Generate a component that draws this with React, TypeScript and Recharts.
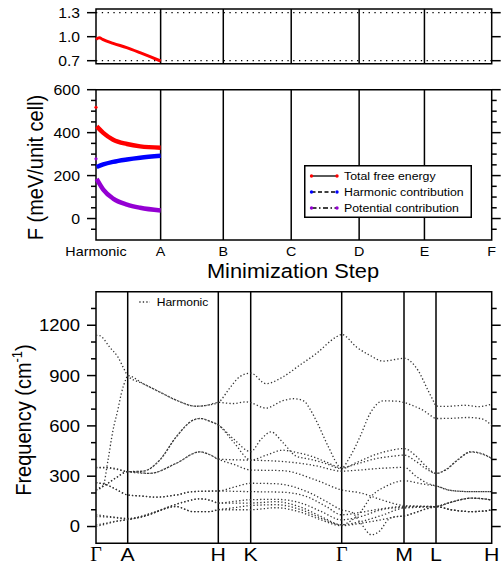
import React from "react";
import {
  LineChart,
  Line,
  XAxis,
  YAxis,
  ReferenceLine,
  ReferenceArea,
  Legend,
} from "recharts";

const FONT = "'Liberation Sans', Arial, Helvetica, sans-serif";
const SERIF = "'Liberation Serif', 'Times New Roman', serif";
const SX = 1.12; // text in the original is a little wide
const PLOT_W = 395.7;

// minimization steps (two upper panels)
const stepLabels = ["Harmonic", "A", "B", "C", "D", "E", "F"];
const stepPos = [0, 0.98, 1.93, 2.96, 3.99, 4.98, 6];

// upper panel
const ratioX = [0, 0.05, 0.1, 0.26, 0.465, 0.667, 0.82, 0.98];
const ratioY = [0.967, 0.988, 0.967, 0.917, 0.863, 0.8, 0.75, 0.696];
const ratioTicks = [0.7, 1.0, 1.3];

// free energy panel, meV / unit cell
const fX = [0.01, 0.11, 0.26, 0.47, 0.67, 0.98];
const totalF = [429, 399, 367, 347, 336, 330];
const harmonicF = [240, 252, 264, 275, 283, 292];
const potentialF = [185, 135, 93, 65, 50, 37];
const startTotal = 518;
const startPotential = 278;
const fTicks = [-50, 0, 50, 100, 150, 200, 250, 300, 350, 400, 450, 500, 550, 600];
const fMajor = [0, 200, 400, 600];

const RED = "#ff0000";
const BLUE = "#0000ff";
const PURPLE = "#9400d3";

const legendRows = [
  { label: "Total free energy", color: RED, dash: undefined },
  { label: "Harmonic contribution", color: BLUE, dash: "4 2.5" },
  { label: "Potential contribution", color: PURPLE, dash: "5 2.5 1.5 2.5" },
];

// phonon dispersion, cm-1
const kLabels = ["Γ", "A", "H", "K", "Γ", "M", "L", "H"];
const kPos = [0, 31.7, 122.3, 154.7, 245.7, 308, 340, 395.7];
const wTicks = [0, 100, 200, 300, 400, 500, 600, 700, 800, 900, 1000, 1100, 1200, 1300];
const wMajor = [0, 300, 600, 900, 1200];

type Pt = [number, number];

const band1: Pt[] = [[0, 1140], [3.7, 1138], [13.7, 1069], [22, 1010], [28.7, 931], [31.7, 898], [47, 852], [63.7, 802], [80.3, 753], [100.3, 717], [112, 724], [122.3, 740], [133.3, 822], [143.3, 891], [154.7, 915], [170, 852], [186.7, 891], [203.3, 960], [220, 1030], [240, 1129], [245.7, 1145], [260.7, 1069], [274, 1020], [287.3, 986], [297.3, 994], [308, 1003], [322, 931], [332, 812], [338.7, 733], [340, 718], [350, 716], [368.7, 723], [382, 715], [395.7, 730]];
const band2: Pt[] = [[0, 218], [7, 240], [12, 396], [17, 574], [22, 700], [25.3, 792], [30, 880], [31.7, 900], [47, 852], [63.7, 802], [80.3, 753], [100.3, 717], [112, 724], [122.3, 740], [136.7, 733], [150, 743], [154.7, 738], [170, 706], [186.7, 750], [198, 762], [208, 748], [214, 700], [222, 610], [232, 480], [245.7, 350], [254, 416], [264, 535], [274, 673], [287.3, 749], [298, 748], [308, 740], [318, 718], [328, 690], [335, 660], [340, 644], [355, 645], [372, 650], [385, 643], [395.7, 604]];
const band3: Pt[] = [[0, 353], [10, 352], [20, 345], [31.7, 327], [47, 330], [63.7, 396], [80.3, 535], [97, 634], [103.7, 644], [115, 625], [122.3, 605], [138, 520], [154.7, 446], [165, 520], [175, 564], [187, 500], [200, 420], [215, 400], [230, 375], [245.7, 345], [260, 380], [280, 430], [298, 458], [308, 465], [320, 420], [330, 360], [340, 317], [350, 340], [362, 400], [375, 446], [388, 430], [395.7, 406]];
const band4: Pt[] = [[0, 350], [10, 350], [20, 341], [31.7, 327], [53.7, 317], [80.3, 377], [103.7, 445], [115, 425], [122.3, 402], [138, 398], [154.7, 396], [170, 425], [186.7, 455], [200, 442], [215, 420], [230, 385], [245.7, 350], [260, 372], [280, 405], [298, 420], [308, 426], [320, 388], [330, 345], [340, 317], [350, 338], [362, 398], [375, 444], [388, 428], [395.7, 406]];
const band5: Pt[] = [[0, 262], [10, 250], [20, 222], [31.7, 188], [45, 182], [60, 175], [80, 188], [97, 208], [122.3, 212], [138, 235], [154.7, 258], [180, 255], [213, 203], [230, 150], [245.7, 99], [255.7, 85], [265.3, 15], [275.3, -49], [284, -25], [292, 40], [300, 60], [308, 63], [320, 85], [330, 105], [340, 119], [355, 145], [375, 169], [388, 165], [395.7, 158]];
const band6: Pt[] = [[0, 218], [10, 250], [20, 290], [31.7, 327], [47, 330], [63.7, 396], [80.3, 535], [97, 634], [103.7, 644], [115, 625], [122.3, 605], [138, 500], [154.7, 396], [175, 392], [200, 380], [220, 362], [245.7, 330], [260, 335], [280, 345], [298, 351], [308, 353], [320, 300], [330, 262], [340, 242], [355, 215], [375, 208], [395.7, 208]];
const band7: Pt[] = [[0, 262], [10, 250], [20, 222], [31.7, 188], [45, 182], [60, 175], [80, 188], [97, 208], [122.3, 212], [138, 210], [154.7, 208], [185, 205], [210, 180], [230, 120], [245.7, 70], [265, 85], [285, 105], [308, 120], [320, 120], [340, 119], [355, 100], [375, 89], [388, 92], [395.7, 99]];
const band8: Pt[] = [[0, 218], [10, 252], [20, 291], [31.7, 327], [53.7, 317], [80.3, 377], [103.7, 445], [115, 425], [122.3, 402], [138, 370], [154.7, 337], [186.7, 333], [220, 277], [245.7, 218], [265, 200], [285, 160], [308, 125], [320, 122], [340, 119], [355, 145], [375, 169], [388, 165], [395.7, 158]];
const band9: Pt[] = [[0, 70], [10, 62], [20, 55], [31.7, 48], [55.3, 79], [73.7, 119], [90, 150], [103.7, 165], [115, 155], [122.3, 140], [138, 150], [154.7, 160], [180, 162], [205, 140], [225, 90], [245.7, 40], [265, 60], [285, 100], [308, 115], [325, 118], [340, 119], [355, 100], [375, 89], [388, 92], [395.7, 99]];
const band10: Pt[] = [[0, 60], [15, 55], [31.7, 45], [55.3, 79], [73.7, 119], [90, 150], [103.7, 165], [115, 155], [122.3, 140], [138, 140], [154.7, 140], [180, 148], [205, 115], [225, 60], [245.7, 10], [255, 35], [265, 90], [275, 178], [290, 240], [308, 273], [320, 262], [330, 250], [340, 242], [355, 215], [375, 208], [395.7, 208]];
const band11: Pt[] = [[0, 10], [10, 20], [20, 32], [31.7, 42], [47, 59], [80, 119], [97, 89], [113.7, 89], [122.3, 100], [138, 112], [154.7, 125], [180, 130], [205, 100], [225, 50], [245.7, 10], [265, 30], [285, 65], [308, 110], [325, 115], [340, 119], [355, 145], [375, 169], [388, 165], [395.7, 158]];
const band12: Pt[] = [[0, 0], [10, 15], [20, 30], [31.7, 40], [47, 59], [80, 119], [97, 89], [113.7, 89], [122.3, 100], [138, 100], [154.7, 100], [180, 112], [205, 85], [225, 40], [245.7, 5], [265, 20], [285, 40], [300, 58], [308, 63], [320, 85], [330, 105], [340, 119], [355, 100], [375, 89], [388, 92], [395.7, 99]];

const bands = [band1, band2, band3, band4, band5, band6, band7, band8, band9, band10, band11, band12];

const pts = (xs: number[], ys: number[]) => xs.map((x, i) => ({ x, y: ys[i] }));
const kpts = (b: Pt[]) => b.map(([k, w]) => ({ x: k, y: w }));

// label-only y tick; marks are drawn as short reference segments on both frame edges
function valueTick(majors: number[], size: number, fmt: (v: number) => string) {
  return (props: any) => {
    const { x, y, payload } = props;
    if (!majors.includes(payload.value)) return <g />;
    return (
      <text
        transform={`translate(${x - 16} ${y}) scale(${SX} 1)`}
        textAnchor="end"
        dy="0.36em"
        fontSize={size}
        fill="#000"
        fontFamily={FONT}
      >
        {fmt(payload.value)}
      </text>
    );
  };
}

function tickMarks(ticks: number[], majors: number[], xMax: number) {
  const perPx = xMax / PLOT_W;
  return ticks.flatMap((v) => {
    const len = (majors.includes(v) ? 9 : 5) * perPx;
    return [
      <ReferenceLine
        key={`tl${v}`}
        segment={[{ x: -len, y: v }, { x: 0, y: v }]}
        stroke="#000"
        strokeWidth={1.5}
        ifOverflow="visible"
      />,
      <ReferenceLine
        key={`tr${v}`}
        segment={[{ x: xMax, y: v }, { x: xMax + len, y: v }]}
        stroke="#000"
        strokeWidth={1.5}
        ifOverflow="visible"
      />,
    ];
  });
}

const StepTick = (props: any) => {
  const { x, y, payload } = props;
  const i = stepPos.indexOf(payload.value);
  return (
    <text
      transform={`translate(${x} ${y + 15.7}) scale(${SX} 1)`}
      textAnchor="middle"
      fontSize={12.8}
      fill="#000"
      fontFamily={FONT}
    >
      {stepLabels[i]}
    </text>
  );
};

const KTick = (props: any) => {
  const { x, y, payload } = props;
  const lab = kLabels[kPos.indexOf(payload.value)];
  const serif = lab === "Γ";
  return (
    <text
      transform={`translate(${x} ${y + 17.7}) scale(${serif ? 1 : SX} 1)`}
      textAnchor="middle"
      fontSize={serif ? 20 : 19}
      fill="#000"
      fontFamily={serif ? SERIF : FONT}
    >
      {lab}
    </text>
  );
};

const FreeLegend = () => (
  <svg width={168} height={53} style={{ display: "block" }}>
    <rect x={0.75} y={0.75} width={166.5} height={51.5} fill="#fff" stroke="#000" strokeWidth={1.5} />
    {legendRows.map((r, i) => {
      const y = 11 + i * 16;
      return (
        <g key={r.label}>
          <line x1={7.5} x2={33} y1={y} y2={y} stroke="#000" strokeWidth={1.3} strokeDasharray={r.dash} />
          <circle cx={7.5} cy={y} r={1.7} fill={r.color} />
          <circle cx={33} cy={y} r={1.7} fill={r.color} />
          <text
            transform={`translate(40 ${y}) scale(${SX} 1)`}
            dy="0.36em"
            fontSize={11}
            fill="#000"
            fontFamily={FONT}
          >
            {r.label}
          </text>
        </g>
      );
    })}
  </svg>
);

const HarmonicLegend = () => (
  <svg width={80} height={14} style={{ display: "block" }}>
    <line x1={3.3} x2={14} y1={7} y2={7} stroke="#333" strokeWidth={1.3} strokeDasharray="1.3 2.2" />
    <text transform={`translate(20.7 7) scale(1.05 1)`} dy="0.36em" fontSize={11.5} fill="#000" fontFamily={FONT}>
      Harmonic
    </text>
  </svg>
);

const frame = { fill: "none", stroke: "#000", strokeWidth: 1.5 };
const margins = (top: number, bottom: number) => ({ top, right: 9.3, bottom, left: 36 });

function leftAxis(domain: number[], ticks: number[], majors: number[], size: number, fmt: (v: number) => string) {
  return (
    <YAxis
      type="number"
      domain={domain}
      ticks={ticks}
      interval={0}
      width={60}
      axisLine={false}
      tickLine={false}
      tickSize={0}
      tickMargin={0}
      tick={valueTick(majors, size, fmt)}
    />
  );
}

export default function App() {
  return (
    <div
      style={{
        position: "absolute",
        left: 0,
        top: 0,
        width: 501,
        height: 564,
        background: "#fff",
        fontFamily: FONT,
      }}
    >
      {/* upper panel */}
      <div style={{ position: "absolute", left: 0, top: 0 }}>
        <LineChart width={501} height={70} margin={margins(9, 6.3)}>
          <XAxis type="number" dataKey="x" domain={[0, 6]} hide />
          {leftAxis([0.6625, 1.346], ratioTicks, ratioTicks, 14, (v) => v.toFixed(1))}
          {stepPos.slice(1, -1).map((p) => (
            <ReferenceLine key={p} x={p} stroke="#000" strokeWidth={1.5} />
          ))}
          <ReferenceLine y={1.3} stroke="#000" strokeWidth={1.3} strokeDasharray="1.3 4.5" />
          <ReferenceLine y={0.7} stroke="#000" strokeWidth={1.3} strokeDasharray="1.3 4.5" />
          {tickMarks(ratioTicks, ratioTicks, 6)}
          <Line
            data={pts(ratioX, ratioY)}
            dataKey="y"
            type="monotone"
            stroke={RED}
            strokeWidth={3}
            dot={false}
            isAnimationActive={false}
          />
          <ReferenceArea x1={0} x2={6} y1={0.6625} y2={1.346} ifOverflow="visible" {...frame} />
        </LineChart>
      </div>

      {/* free energy panel */}
      <div style={{ position: "absolute", left: 0, top: 70 }}>
        <LineChart width={501} height={215} margin={margins(19.7, 25)}>
          <XAxis
            type="number"
            dataKey="x"
            domain={[0, 6]}
            ticks={stepPos}
            interval={0}
            height={20}
            axisLine={false}
            tickLine={false}
            tickSize={0}
            tickMargin={0}
            tick={StepTick}
          />
          {leftAxis([-100, 600], fTicks, fMajor, 14.2, String)}
          {stepPos.slice(1, -1).map((p) => (
            <ReferenceLine key={p} x={p} stroke="#000" strokeWidth={1.5} />
          ))}
          {tickMarks(fTicks, fMajor, 6)}
          <Line data={pts(fX, totalF)} dataKey="y" type="monotone" stroke={RED} strokeWidth={4.5} dot={false} isAnimationActive={false} />
          <Line data={pts(fX, harmonicF)} dataKey="y" type="monotone" stroke={BLUE} strokeWidth={4.5} dot={false} isAnimationActive={false} />
          <Line data={pts(fX, potentialF)} dataKey="y" type="monotone" stroke={PURPLE} strokeWidth={4.5} dot={false} isAnimationActive={false} />
          <Line
            data={[{ x: 0, y: startTotal }]}
            dataKey="y"
            stroke="none"
            dot={{ r: 1.6, fill: RED, stroke: "none" }}
            isAnimationActive={false}
          />
          <Line
            data={[{ x: 0, y: startPotential }]}
            dataKey="y"
            stroke="none"
            dot={{ r: 1.6, fill: PURPLE, stroke: "none" }}
            isAnimationActive={false}
          />
          <Legend
            layout="vertical"
            align="center"
            verticalAlign="middle"
            content={() => <FreeLegend />}
            wrapperStyle={{ left: 304, top: 95, width: 168, height: 53 }}
          />
          <ReferenceArea x1={0} x2={6} y1={-100} y2={600} ifOverflow="visible" {...frame} />
        </LineChart>
      </div>

      {/* phonon dispersion panel */}
      <div style={{ position: "absolute", left: 0, top: 285 }}>
        <LineChart width={501} height={279} margin={margins(6.7, 0.7)}>
          <XAxis
            type="number"
            dataKey="x"
            domain={[0, 395.7]}
            ticks={kPos}
            interval={0}
            height={20}
            axisLine={false}
            tickLine={false}
            tickSize={0}
            tickMargin={0}
            tick={KTick}
          />
          {leftAxis([-100, 1400], wTicks, wMajor, 16.5, String)}
          {kPos.slice(1, -1).map((p) => (
            <ReferenceLine key={p} x={p} stroke="#000" strokeWidth={1.5} />
          ))}
          {tickMarks(wTicks, wMajor, 395.7)}
          {bands.map((b, i) => (
            <Line
              key={i}
              data={kpts(b)}
              dataKey="y"
              type="monotone"
              stroke="#333"
              strokeWidth={1.3}
              strokeDasharray="1.3 2.2"
              dot={false}
              isAnimationActive={false}
            />
          ))}
          <Legend
            layout="vertical"
            align="center"
            verticalAlign="middle"
            content={() => <HarmonicLegend />}
            wrapperStyle={{ left: 136, top: 10, width: 80, height: 14 }}
          />
          <ReferenceArea x1={0} x2={395.7} y1={-100} y2={1400} ifOverflow="visible" {...frame} />
        </LineChart>
      </div>

      {/* axis titles */}
      <svg
        width={501}
        height={564}
        style={{ position: "absolute", left: 0, top: 0, pointerEvents: "none" }}
      >
        <text
          transform={`translate(43 167.5) scale(${SX} 1) rotate(-90)`}
          textAnchor="middle"
          fontSize={20}
          fill="#000"
          fontFamily={FONT}
        >
          F (meV/unit cell)
        </text>
        <text
          transform={`translate(293 277.5) scale(${SX} 1)`}
          textAnchor="middle"
          fontSize={19.5}
          fill="#000"
          fontFamily={FONT}
        >
          Minimization Step
        </text>
        <text
          transform={`translate(31 420) scale(${SX} 1) rotate(-90)`}
          textAnchor="middle"
          fontSize={20}
          fill="#000"
          fontFamily={FONT}
        >
          Frequency (cm
          <tspan dy={-8} fontSize={13}>
            -1
          </tspan>
          <tspan dy={8}>)</tspan>
        </text>
      </svg>
    </div>
  );
}
